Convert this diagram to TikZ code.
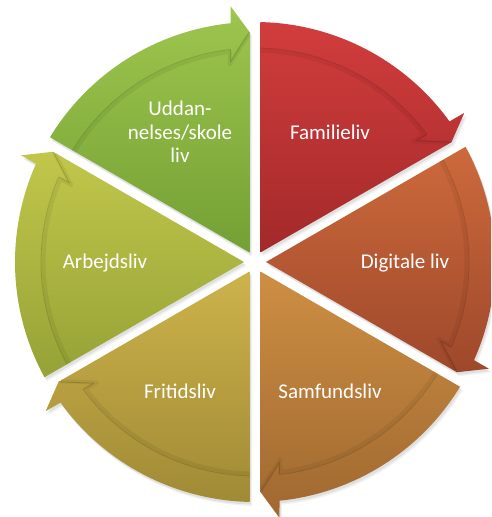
\documentclass[tikz,border=0pt]{standalone}
\usepackage{fontspec}
\setmainfont{Carlito}
\begin{document}
\begin{tikzpicture}[x=1pt,y=1pt,
  segpath/.style={insert path={
    (#1+30:11) -- (#1+58.69:240)
    arc[start angle=#1+58.69, end angle=#1+5.86, radius=240]
    -- (#1+5.47:257) -- (#1+1.37:230.07) -- cycle}},
  edgepath/.style={insert path={
    (#1+58.53:214)
    arc[start angle=#1+58.53, end angle=#1+6.57, radius=214]
    -- (#1+6.98:201.5) -- (#1+1.37:230.07)}},
  innerpath/.style={insert path={
    (#1+58.6:211.5)
    arc[start angle=#1+58.6, end angle=#1+6.9, radius=211.5]
    -- (#1+7.3:199) -- (#1+1.6:227.5)}},
  lbl/.style={text=white, font=\fontsize{21}{23.5}\selectfont, inner sep=0pt, align=center}]
\useasboundingbox (0,0) rectangle (491,517);
\clip (0,0) rectangle (491,517);
\fill[white] (0,0) rectangle (491,517);
\begin{scope}[shift={(255,255)}]
  % soft shadows
  \foreach \a in {90,30,-30,-90,-150,150}{
    \begin{scope}[shift={(1.5,-2.5)}]
      \fill[black,opacity=0.07,segpath=\a];
    \end{scope}
    \begin{scope}[shift={(2.5,-4)}]
      \fill[black,opacity=0.05,segpath=\a];
    \end{scope}
  }
  % segments
  \foreach \a/\ct/\cb in {90/9EC64E/74A034, 30/D23D3D/A3292A, -30/CD6A3C/9E482B,
                          -90/CE8F43/9F6830, -150/CDB34B/A08A35, 150/C2C74B/95A236}{
    \definecolor{ctop}{HTML}{\ct}
    \definecolor{cbot}{HTML}{\cb}
    \shade[top color=ctop, bottom color=cbot, segpath=\a];
    \draw[black,opacity=0.06,line width=4,line join=round,innerpath=\a];
    \draw[black,opacity=0.14,line width=0.8,line join=round,edgepath=\a];
  }
  % labels
  \node[lbl] (udd) at (120:150) {Uddan-\\nelses/skole\\liv};
  \node[lbl,anchor=base] (fam) at ([yshift=-7pt]60:150) {Familieliv};
  \node[lbl,anchor=base] (dig) at ([yshift=-7pt]0:150) {Digitale liv};
  \node[lbl,anchor=base] (sam) at ([yshift=-7pt]-60:150) {Samfundsliv};
  \node[lbl,anchor=base] (fri) at ([yshift=-7pt]-120:150) {Fritidsliv};
  \node[lbl,anchor=base] (arb) at ([yshift=-7pt]180:150) {Arbejdsliv};
\end{scope}
\end{tikzpicture}
\end{document}
